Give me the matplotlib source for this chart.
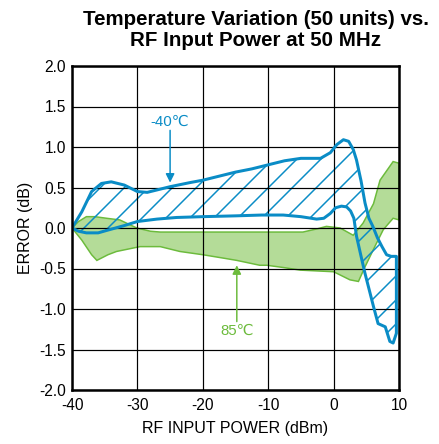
import numpy as np
import matplotlib
matplotlib.use("Agg")
import matplotlib.pyplot as plt
from matplotlib.patches import Polygon

plt.rcParams['font.family'] = ['Liberation Sans', 'DejaVu Sans']
plt.rcParams['axes.unicode_minus'] = False
plt.rcParams['hatch.linewidth'] = 1.5

# -40C band (hatched, blue)
cold_hi_x = [-40, -38.5, -37, -35.5, -34, -32, -30, -28.5, -27, -25, -22, -20, -17.5, -15,
             -12.5, -10, -7.5, -5, -2, -0.5, 0.5, 1.5, 2.3, 3, 3.5, 4.2, 4.8, 5.4, 6,
             6.7, 7.4, 8.1, 8.8, 9.6, 9.6]
cold_hi_y = [0.0, 0.2, 0.45, 0.55, 0.57, 0.53, 0.45, 0.44, 0.47, 0.51, 0.56, 0.59, 0.64, 0.69,
             0.73, 0.78, 0.83, 0.86, 0.86, 0.93, 1.03, 1.09, 1.07, 0.97, 0.84, 0.58, 0.31, 0.12, 0.02,
             -0.12, -0.23, -0.33, -0.35, -0.35, -1.30]
cold_lo_x = [-40, -39, -37.8, -36, -34.7, -32, -30, -27, -24, -20, -15, -11, -7.7, -5,
             -2.6, -1.5, -0.5, 0.3, 1.2, 2.0, 2.6, 3.1, 3.5, 4.2, 4.8, 5.5, 6.1, 6.8,
             7.9, 8.6, 9.1]
cold_lo_y = [0.0, -0.04, -0.06, -0.06, -0.03, 0.03, 0.08, 0.11, 0.13, 0.14, 0.15, 0.16, 0.16, 0.14,
             0.11, 0.12, 0.18, 0.25, 0.27, 0.26, 0.21, 0.12, -0.1, -0.35, -0.56, -0.78, -0.97, -1.18,
             -1.22, -1.40, -1.42]

# 85C band (filled, green)
hot_hi_x = [-40, -39, -37.8, -36.5, -34.7, -32.7, -30.1, -28, -26.5, -20, -11.3, -4.7, -2.5,
            -1.1, 1, 3, 4.5, 5.3, 6.1, 7.1, 9.1, 10]
hot_hi_y = [0.0, 0.08, 0.14, 0.14, 0.12, 0.10, 0.0, -0.04, -0.05, -0.05, -0.05, -0.05, -0.01,
            0.02, 0.0, -0.09, 0.06, 0.18, 0.30, 0.59, 0.82, 0.80]
hot_lo_x = [-40, -38.5, -37, -36.2, -34.5, -33.2, -29.6, -26.5, -23.5, -20, -17, -14.8, -11.3,
            -10.2, -7.5, -5.1, 0, 2.5, 3.8, 4.8, 6.3, 7.6, 9.1, 10]
hot_lo_y = [0.0, -0.15, -0.33, -0.40, -0.33, -0.29, -0.23, -0.23, -0.29, -0.33, -0.37, -0.40, -0.46,
            -0.46, -0.49, -0.52, -0.54, -0.64, -0.66, -0.48, -0.23, -0.02, 0.12, 0.10]

x_ticks = [-40, -30, -20, -10, 0, 10]
y_ticks = [-2.0, -1.5, -1.0, -0.5, 0.0, 0.5, 1.0, 1.5, 2.0]

blue = '#0a8cc6'
green_edge = '#6cbb3c'
green_fill = '#b4dc98'

fig = plt.figure(figsize=(439 / 72, 444 / 72), dpi=72)
ax = fig.add_axes([72 / 439, 1 - 390 / 444, 327 / 439, 324 / 444])

hot_pts = np.column_stack([hot_hi_x + hot_lo_x[::-1], hot_hi_y + hot_lo_y[::-1]])
ax.add_patch(Polygon(hot_pts, closed=True, facecolor=green_fill, edgecolor=green_edge,
                     linewidth=1.5, zorder=1))

cold_pts = np.column_stack([cold_hi_x + cold_lo_x[::-1], cold_hi_y + cold_lo_y[::-1]])
ax.add_patch(Polygon(cold_pts, closed=True, facecolor='none', edgecolor=blue,
                     linewidth=0, hatch='/', zorder=1.5))
ax.add_patch(Polygon(cold_pts, closed=True, facecolor='none', edgecolor=blue,
                     linewidth=3, joinstyle='round', zorder=3))

ax.annotate('-40℃', xy=(-25.0, 0.56), xytext=(-25.0, 1.23), color=blue, fontsize=15,
            ha='center', va='bottom', zorder=4,
            arrowprops=dict(arrowstyle='-|>', color=blue, lw=1.5, mutation_scale=18,
                            shrinkA=0, shrinkB=0))
ax.annotate('85℃', xy=(-14.8, -0.46), xytext=(-14.8, -1.18), color=green_edge, fontsize=15,
            ha='center', va='top', zorder=4,
            arrowprops=dict(arrowstyle='-|>', color=green_edge, lw=1.5, mutation_scale=18,
                            shrinkA=0, shrinkB=0))

ax.set_xlim(-40, 10)
ax.set_ylim(-2.0, 2.0)
ax.set_xticks(x_ticks)
ax.set_yticks(y_ticks)
ax.set_xticklabels([str(v) for v in x_ticks])
ax.set_yticklabels(['%.1f' % v for v in y_ticks])
ax.tick_params(length=0, labelsize=15.5)
ax.tick_params(axis='x', pad=8)
ax.tick_params(axis='y', pad=6)
ax.grid(True, color='black', linewidth=1.2)
ax.set_axisbelow(False)
for s in ax.spines.values():
    s.set_linewidth(2.5)
    s.set_zorder(5)

ax.set_xlabel('RF INPUT POWER (dBm)', fontsize=16, labelpad=8)
ax.set_ylabel('ERROR (dB)', fontsize=16, labelpad=6)

fig.text(256 / 439, 1 - 25 / 444, 'Temperature Variation (50 units) vs.', ha='center',
         va='baseline', fontsize=20.5, fontweight='bold')
fig.text(256 / 439, 1 - 46 / 444, 'RF Input Power at 50 MHz', ha='center',
         va='baseline', fontsize=20.5, fontweight='bold')

fig.savefig('out.png', dpi=72)
